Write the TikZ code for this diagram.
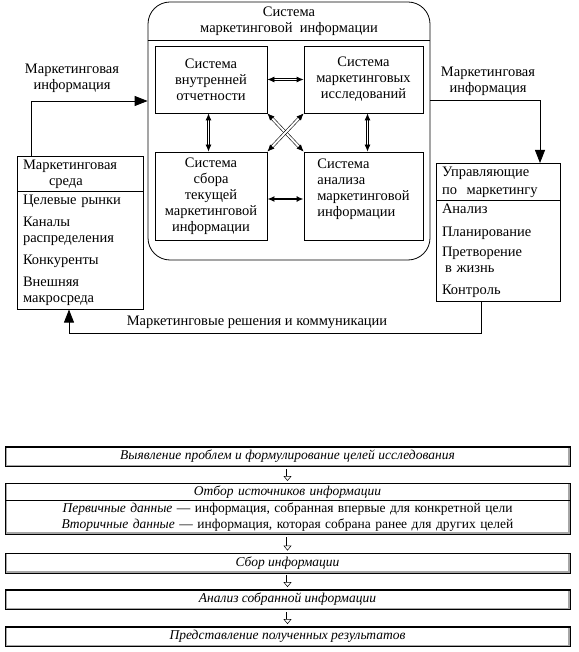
\documentclass[tikz,border=0pt]{standalone}
\usepackage{fontspec}
\setmainfont{Liberation Serif}
\usetikzlibrary{arrows.meta,shapes.multipart}

\tikzset{
  sysbox/.style={draw, line width=0.8pt, minimum height=67pt, align=center, inner sep=2pt},
  listbox/.style={draw, line width=0.8pt, rectangle split, rectangle split parts=2,
        rectangle split part align={left}, align=left, inner xsep=6pt, inner ysep=3pt, anchor=north},
  infoarrow/.style={line width=0.8pt, -{Triangle[length=13pt,width=10pt]}},
  linkarrow/.style={line width=0.8pt, double, double distance=1.2pt,
        {Latex[length=7pt,width=6pt]}-{Latex[length=7pt,width=6pt]}},
  stagebox/.style={draw, line width=0.8pt, minimum width=565pt, minimum height=20pt, inner sep=2pt,
        path picture={
          \draw[gray!70, line width=4pt] (path picture bounding box.north west) -- (path picture bounding box.south west)
                -- (path picture bounding box.south east) -- (path picture bounding box.north east);
          \draw[line width=2pt] (path picture bounding box.north west) -- (path picture bounding box.north east);
        }},
  stagearrow/.style={line width=0.5pt, double, double distance=2pt,
        -{Triangle[open, length=5pt, width=8pt]}, shorten <=2pt, shorten >=2pt}
}

\begin{document}
\begin{tikzpicture}[x=1pt, y=-1pt, font=\fontsize{14.5}{16}\selectfont]
\useasboundingbox (0,0) rectangle (578,652);

% system of marketing information
\node[draw, line width=0.8pt, rounded corners=22pt, minimum width=282pt, minimum height=258pt] (sim) at (289,131) {};
\node[anchor=north, align=center, inner xsep=3pt, inner ysep=5pt] (simtitle) at (sim.north)
        {Система\\маркетинговой\ \ информации};
\draw[line width=0.8pt] (sim.west |- 0,40) -- (sim.east |- 0,40);

\node[sysbox, minimum width=112pt] (vnutr) at (211,79.5) {Система\\внутренней\\отчетности};
\node[sysbox, minimum width=119pt] (issl) at (363.5,79.5) {Система\\маркетинговых\\исследований};
\node[sysbox, minimum width=112pt, minimum height=88pt] (sbor) at (211,196)
        {Система\\сбора\\текущей\\маркетинговой\\информации};
\node[sysbox, minimum width=119pt, minimum height=88pt, align=left] (analiz) at (363.5,196)
        {Система\\анализа\\маркетинговой\\информации\\[0pt]};

% links between the subsystems
\draw[linkarrow] (vnutr) -- (issl);
\draw[linkarrow] ([xshift=-2.5pt]vnutr.south) -- ([xshift=-2.5pt]sbor.north);
\draw[linkarrow] ([xshift=4pt]issl.south) -- ([xshift=4pt]analiz.north);
\draw[line width=1.4pt, {Latex[length=7pt,width=6pt]}-{Latex[length=7pt,width=6pt]}]
        ([yshift=-3pt]sbor.east) -- ([yshift=-3pt]analiz.west);
\draw[linkarrow, line width=0.6pt, double distance=2pt] (vnutr.south east) -- (analiz.north west);
\draw[linkarrow, line width=0.6pt, double distance=2pt] (issl.south west) -- (sbor.north east);

% environment and managers
\node[listbox, text width=114pt] (sreda) at (80,156)
        {Маркетинговая\\\hspace*{26pt}среда
         \nodepart{two} Целевые рынки\\[6pt]Каналы\\распределения\\[6pt]Конкуренты\\[6pt]Внешняя\\макросреда};
\node[listbox, text width=112pt] (uprav) at (498,163)
        {Управляющие\\[2pt]по\ \ маркетингу
         \nodepart{two} Анализ\\[7pt]Планирование\\[4pt]Претворение\\\hspace*{3pt}в жизнь\\[6pt]Контроль};

% information flows
\draw[infoarrow] ([xshift=-49pt]sreda.north) |- (sim.west |- 0,101);
\node[align=center] (infoin) at (72,78) {Маркетинговая\\информация};
\draw[infoarrow] (sim.east |- 0,100) -| ([xshift=42pt]uprav.north);
\node[align=center] (infoout) at (488,81) {Маркетинговая\\информация};
\draw[infoarrow] ([xshift=-17pt]uprav.south) |- ([xshift=-11pt]sreda.south |- 0,333) -- ([xshift=-11pt]sreda.south);
\node (resh) at (257,322) {Маркетинговые решения и коммуникации};

% stages of the research
\begin{scope}[font=\fontsize{13.5}{16}\selectfont]
\node[stagebox] (vyyav) at (287.5,456.5) {\itshape Выявление проблем и формулирование целей исследования};
\node[stagebox, minimum height=0pt, rectangle split, rectangle split parts=2, text width=557pt,
      inner xsep=4pt, align=center, anchor=north] (otbor) at (287.5,483)
        {\textit{Отбор источников информации}
         \nodepart{two}\textit{Первичные данные} — информация, собранная впервые для конкретной цели\\
         \textit{Вторичные данные} — информация, которая собрана ранее для других целей};
\node[stagebox] (sborinf) at (287.5,563) {\itshape Сбор информации};
\node[stagebox] (analizinf) at (287.5,599.5) {\itshape Анализ собранной информации};
\node[stagebox] (predst) at (287.5,636.5) {\itshape Представление полученных результатов};

\draw[stagearrow] (vyyav) -- (otbor);
\draw[stagearrow] (otbor) -- (sborinf);
\draw[stagearrow] (sborinf) -- (analizinf);
\draw[stagearrow] (analizinf) -- (predst);
\end{scope}
\end{tikzpicture}
\end{document}
